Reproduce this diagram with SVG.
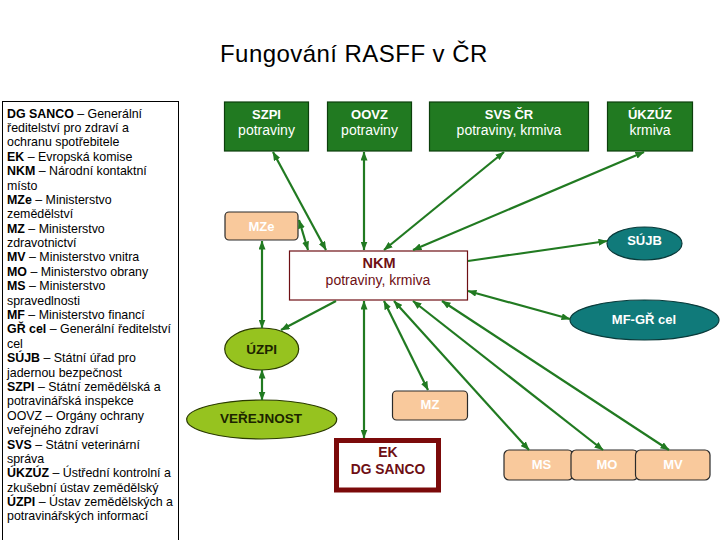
<svg xmlns="http://www.w3.org/2000/svg" width="720" height="540" viewBox="0 0 720 540">
<style>
text{font-family:"Liberation Sans",Arial,sans-serif}
.legend{font-size:12.4px;fill:#000}
.legend .b{font-weight:bold}
.gbox{fill:#217a21;stroke:#0c3f0c;stroke-width:1.2}
.gb{font-size:13px;font-weight:bold;fill:#fff;text-anchor:middle}
.gr{font-size:14px;fill:#fff;text-anchor:middle}
.obox{fill:#f9c99c;stroke:#2a2a2a;stroke-width:1.2}
.ot{font-size:13px;font-weight:bold;fill:#fff;text-anchor:middle}
.teal{fill:#107a7a;stroke:#0a3a3a;stroke-width:1.2}
.lime{fill:#96c31f;stroke:#2a3a00;stroke-width:1.2}
.lt{font-size:13.5px;font-weight:bold;fill:#1c2400;text-anchor:middle}
.red{fill:#6e0f14;text-anchor:middle}
.conn line{stroke:#217a21;stroke-width:2.2;fill:none}
.dbl{marker-start:url(#ah);marker-end:url(#ah)}
.sgl{marker-end:url(#ah)}
</style>
<defs>
<marker id="ah" markerUnits="userSpaceOnUse" markerWidth="9" markerHeight="7" refX="8.5" refY="3.5" orient="auto-start-reverse">
<path d="M0,0 L9,3.5 L0,7 z" fill="#217a21"/>
</marker>
</defs>
<rect width="720" height="540" fill="#fff"/>
<text x="220" y="62" font-size="24" letter-spacing="0.45" fill="#000">Fungování RASFF v ČR</text>
<g id="legend">
<rect x="2.5" y="101.5" width="176" height="445" fill="#fff" stroke="#000" stroke-width="1"/>
<text class="legend" x="7" y="117.5"><tspan class="b">DG SANCO</tspan> – Generální</text>
<text class="legend" x="7" y="131.9">ředitelství pro zdraví a</text>
<text class="legend" x="7" y="146.3">ochranu spotřebitele</text>
<text class="legend" x="7" y="160.7"><tspan class="b">EK</tspan> – Evropská komise</text>
<text class="legend" x="7" y="175.1"><tspan class="b">NKM</tspan> – Národní kontaktní</text>
<text class="legend" x="7" y="189.5">místo</text>
<text class="legend" x="7" y="203.8"><tspan class="b">MZe</tspan> – Ministerstvo</text>
<text class="legend" x="7" y="218.2">zemědělství</text>
<text class="legend" x="7" y="232.6"><tspan class="b">MZ</tspan> – Ministerstvo</text>
<text class="legend" x="7" y="247.0">zdravotnictví</text>
<text class="legend" x="7" y="261.4"><tspan class="b">MV</tspan> – Ministerstvo vnitra</text>
<text class="legend" x="7" y="275.8"><tspan class="b">MO</tspan> – Ministerstvo obrany</text>
<text class="legend" x="7" y="290.2"><tspan class="b">MS</tspan> – Ministerstvo</text>
<text class="legend" x="7" y="304.6">spravedlnosti</text>
<text class="legend" x="7" y="319.0"><tspan class="b">MF</tspan> – Ministerstvo financí</text>
<text class="legend" x="7" y="333.4"><tspan class="b">GŘ cel</tspan> – Generální ředitelství</text>
<text class="legend" x="7" y="347.7">cel</text>
<text class="legend" x="7" y="362.1"><tspan class="b">SÚJB</tspan> – Státní úřad pro</text>
<text class="legend" x="7" y="376.5">jadernou bezpečnost</text>
<text class="legend" x="7" y="390.9"><tspan class="b">SZPI</tspan> – Státní zemědělská a</text>
<text class="legend" x="7" y="405.3">potravinářská inspekce</text>
<text class="legend" x="7" y="419.7">OOVZ – Orgány ochrany</text>
<text class="legend" x="7" y="434.1">veřejného zdraví</text>
<text class="legend" x="7" y="448.5"><tspan class="b">SVS</tspan> – Státní veterinární</text>
<text class="legend" x="7" y="462.9">správa</text>
<text class="legend" x="7" y="477.3"><tspan class="b">ÚKZÚZ</tspan> – Ústřední kontrolní a</text>
<text class="legend" x="7" y="491.6">zkušební ústav zemědělský</text>
<text class="legend" x="7" y="506.0"><tspan class="b">ÚZPI</tspan> – Ústav zemědělských a</text>
<text class="legend" x="7" y="520.4">potravinářských informací</text>
</g>
<g id="szpi">
<rect class="gbox" x="224.5" y="102" width="84" height="49"/>
<text class="gb" x="266.5" y="118.5">SZPI</text>
<text class="gr" x="266.5" y="135">potraviny</text>
</g>
<g id="oovz">
<rect class="gbox" x="327.5" y="102" width="84" height="49"/>
<text class="gb" x="369.5" y="118.5">OOVZ</text>
<text class="gr" x="369.5" y="135">potraviny</text>
</g>
<g id="svs">
<rect class="gbox" x="429.5" y="102" width="159" height="49"/>
<text class="gb" x="509" y="118.5">SVS ČR</text>
<text class="gr" x="509" y="135">potraviny, krmiva</text>
</g>
<g id="ukzuz">
<rect class="gbox" x="607.5" y="102" width="85" height="49"/>
<text class="gb" x="650" y="118.5">ÚKZÚZ</text>
<text class="gr" x="650" y="135">krmiva</text>
</g>
<g id="mze">
<rect class="obox" x="225" y="212" width="73" height="28" rx="4"/>
<text class="ot" x="261.5" y="230.5">MZe</text>
</g>
<g id="nkm">
<rect x="289.5" y="251" width="178" height="49" fill="#fff" stroke="#6e0f14" stroke-width="1.2"/>
<text class="red" x="379" y="267.5" font-size="14.5" font-weight="bold">NKM</text>
<text class="red" x="378" y="285" font-size="14">potraviny, krmiva</text>
</g>
<g id="sujb">
<ellipse class="teal" cx="644.5" cy="243.5" rx="37.5" ry="16.5"/>
<text class="ot" x="644.5" y="244.5">SÚJB</text>
</g>
<g id="mfgr">
<ellipse class="teal" cx="644.5" cy="320" rx="74.5" ry="20"/>
<text class="ot" x="644" y="323.5">MF-GŘ cel</text>
</g>
<g id="uzpi">
<ellipse class="lime" cx="261.7" cy="349" rx="37" ry="21"/>
<text class="lt" x="261.7" y="354">ÚZPI</text>
</g>
<g id="verejnost">
<ellipse class="lime" cx="261.7" cy="419.5" rx="75" ry="19.5"/>
<text class="lt" x="261" y="423">VEŘEJNOST</text>
</g>
<g id="mz">
<rect class="obox" x="392.5" y="391" width="75" height="29" rx="4"/>
<text class="ot" x="430" y="408.5">MZ</text>
</g>
<g id="ek">
<rect x="336.5" y="440.5" width="102" height="49.5" fill="#fff" stroke="#7b0a0a" stroke-width="5"/>
<text class="red" x="388" y="457" font-size="14" font-weight="bold">EK</text>
<text class="red" x="388" y="474" font-size="13.8" font-weight="bold">DG SANCO</text>
</g>
<g id="ms">
<rect class="obox" x="504" y="450" width="69" height="30" rx="5"/>
<text class="ot" x="541.5" y="468.5">MS</text>
</g>
<g id="mo">
<rect class="obox" x="571" y="450" width="67" height="30" rx="5"/>
<text class="ot" x="607" y="468.5">MO</text>
</g>
<g id="mv">
<rect class="obox" x="635.5" y="450" width="74.5" height="30" rx="5"/>
<text class="ot" x="673" y="468.5">MV</text>
</g>
<g id="connectors" class="conn">
<line class="dbl" x1="273" y1="152" x2="326" y2="250"/>
<line class="dbl" x1="364" y1="152" x2="364" y2="250"/>
<line class="dbl" x1="299" y1="220" x2="308" y2="250"/>
<line class="dbl" x1="504" y1="152" x2="384" y2="250"/>
<line class="dbl" x1="644" y1="152" x2="413" y2="250"/>
<line class="sgl" x1="468" y1="261" x2="607" y2="241"/>
<line class="dbl" x1="468" y1="291" x2="570" y2="319"/>
<line class="sgl" x1="336" y1="301" x2="281" y2="330"/>
<line class="dbl" x1="262" y1="241" x2="262" y2="328"/>
<line class="dbl" x1="262" y1="370" x2="262" y2="400"/>
<line class="dbl" x1="364" y1="301" x2="364" y2="438"/>
<line class="dbl" x1="384" y1="301" x2="428" y2="390"/>
<line class="dbl" x1="394" y1="301" x2="529" y2="450"/>
<line class="dbl" x1="413" y1="301" x2="603" y2="450"/>
<line class="dbl" x1="442" y1="301" x2="669" y2="450"/>
</g>
</svg>
